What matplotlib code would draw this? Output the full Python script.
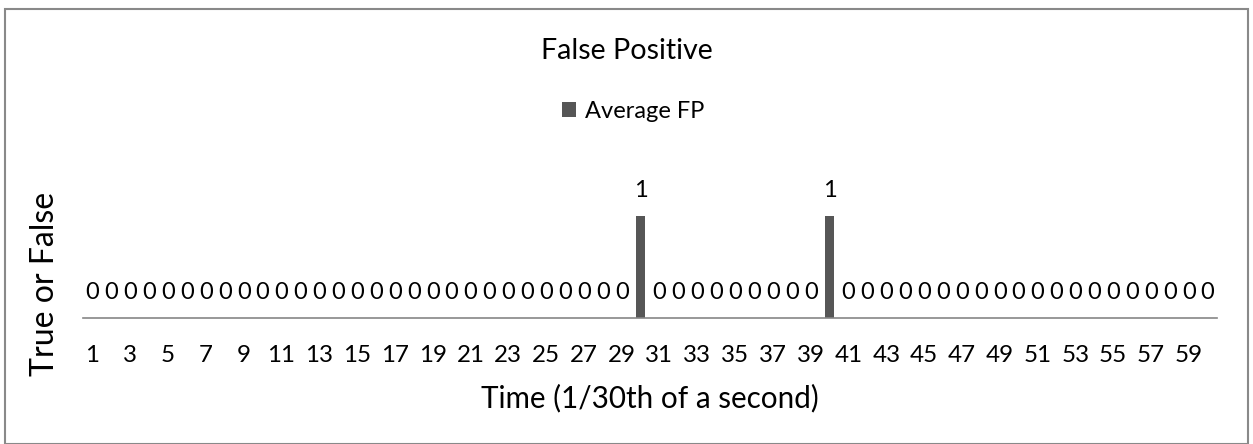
import matplotlib
matplotlib.use('Agg')
import matplotlib.pyplot as plt
from matplotlib.patches import Rectangle

# frames 1..60, 1 = false positive in that frame
frames = list(range(1, 61))
avg_fp = [0, 0, 0, 0, 0, 0, 0, 0, 0, 0,
          0, 0, 0, 0, 0, 0, 0, 0, 0, 0,
          0, 0, 0, 0, 0, 0, 0, 0, 0, 1,
          0, 0, 0, 0, 0, 0, 0, 0, 0, 1,
          0, 0, 0, 0, 0, 0, 0, 0, 0, 0,
          0, 0, 0, 0, 0, 0, 0, 0, 0, 0]
tick_frames = frames[::2]

title = 'False Positive'
series_name = 'Average FP'
x_title = 'Time (1/30th of a second)'
y_title = 'True or False'

plt.rcParams['font.family'] = ['Lato', 'DejaVu Sans']

W, H = 1253, 444
fig = plt.figure(figsize=(W / 100, H / 100), dpi=100)
fig.patch.set_facecolor('white')

# plot area in pixels (from top-left)
left_px, right_px, base_px, top_px = 83, 1217, 318, 150
ax = fig.add_axes([left_px / W, (H - base_px) / H,
                   (right_px - left_px) / W, (base_px - top_px) / H])

bars = ax.bar(frames, avg_fp, width=0.48, color='#565656', label=series_name, zorder=2)

for x, v in zip(frames, avg_fp):
    ax.annotate(str(v), (x, v), xytext=(0, 18.7), textcoords='offset points',
                ha='center', va='center', fontsize=17, color='black')

ax.set_xlim(0.5, 60.5)
ax.set_ylim(0, (base_px - top_px) / 102)

ax.set_xticks(tick_frames)
ax.set_xticklabels([str(t) for t in tick_frames], fontsize=17.4)
ax.tick_params(axis='x', length=0, pad=19.5)
ax.set_yticks([])

for side in ['top', 'right', 'left']:
    ax.spines[side].set_visible(False)
ax.spines['bottom'].set_color('#868686')
ax.spines['bottom'].set_linewidth(1.2)

fig.text(627 / W, (H - 59) / H, title, ha='center', va='baseline', fontsize=20.6)
fig.text(650 / W, (H - 407) / H, x_title, ha='center', va='baseline', fontsize=21.3)
fig.text(54 / W, (H - 284) / H, y_title, rotation=90, rotation_mode='anchor',
         ha='center', va='baseline', fontsize=23)

fig.legend(handles=[bars], labels=[series_name], loc='center',
           bbox_to_anchor=(633 / W, (H - 111) / H), frameon=False, fontsize=17,
           handlelength=0.6, handleheight=0.6, handletextpad=0.35)

# chart border
fig.patches.append(Rectangle((5 / W, 0), (1248 - 5) / W, (H - 9) / H,
                             transform=fig.transFigure, fill=False,
                             edgecolor='#898989', linewidth=1.5))

fig.savefig('out.png', dpi=100)
